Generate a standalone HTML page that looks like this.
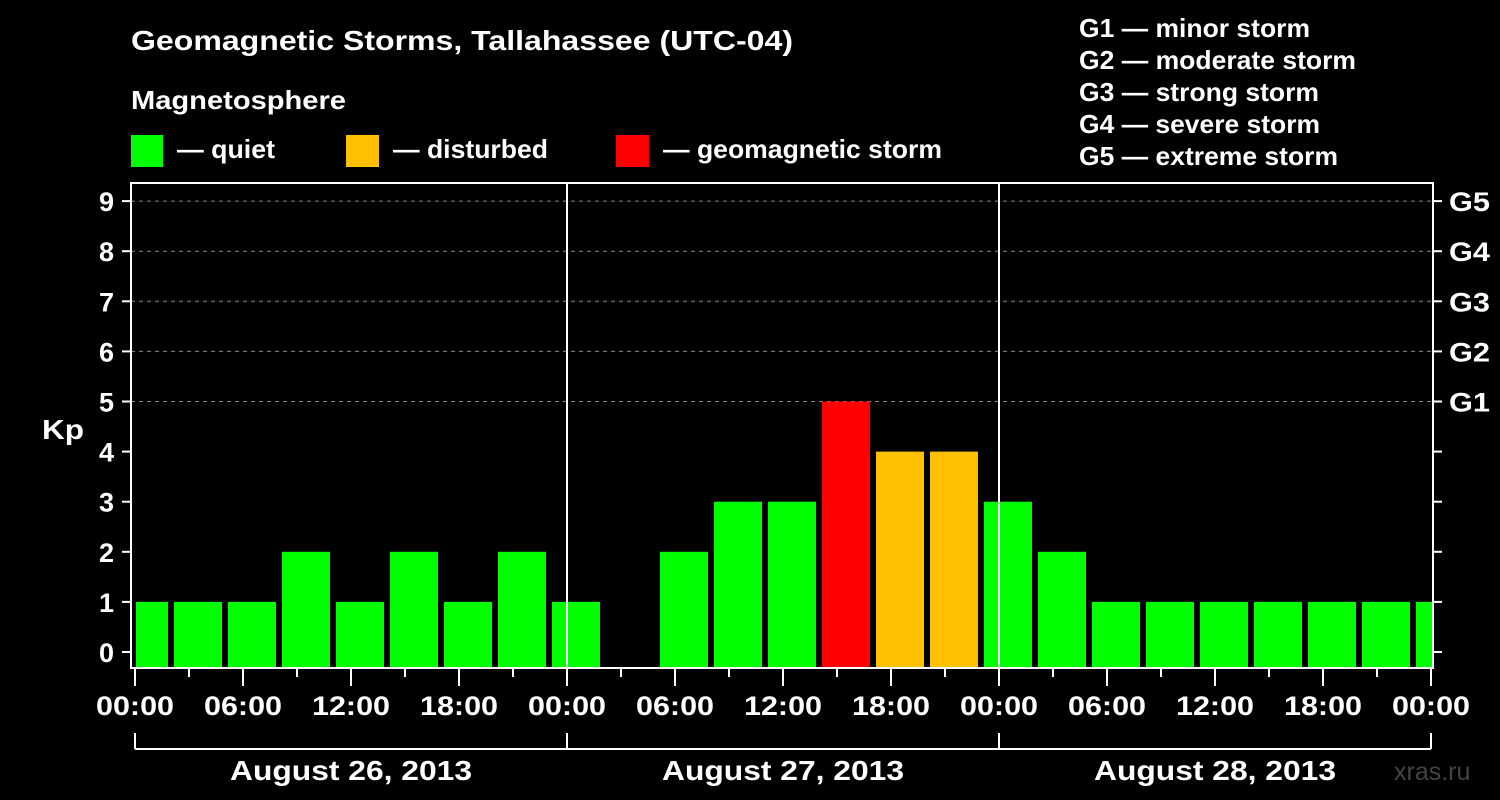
<!DOCTYPE html>
<html><head><meta charset="utf-8"><style>
html,body{margin:0;background:#000;}
svg{display:block;font-family:"Liberation Sans",sans-serif;font-weight:bold;}
</style></head><body>
<svg id="chart" width="1500" height="800" viewBox="0 0 1500 800">
<g fill="#fff">
<text x="131" y="50" font-size="28" textLength="662" lengthAdjust="spacingAndGlyphs">Geomagnetic Storms, Tallahassee (UTC-04)</text>
<text x="131" y="109" font-size="26" textLength="215" lengthAdjust="spacingAndGlyphs">Magnetosphere</text>
<rect x="131" y="135" width="32" height="32" fill="#00ff00"/>
<text x="177" y="158" font-size="26" textLength="98" lengthAdjust="spacingAndGlyphs">— quiet</text>
<rect x="346" y="135" width="33" height="32" fill="#ffc000"/>
<text x="393" y="158" font-size="26" textLength="155" lengthAdjust="spacingAndGlyphs">— disturbed</text>
<rect x="616" y="135" width="33" height="32" fill="#ff0000"/>
<text x="663" y="158" font-size="26" textLength="279" lengthAdjust="spacingAndGlyphs">— geomagnetic storm</text>
<text x="1079" y="37" font-size="26" textLength="231" lengthAdjust="spacingAndGlyphs">G1 — minor storm</text>
<text x="1079" y="69" font-size="26" textLength="277" lengthAdjust="spacingAndGlyphs">G2 — moderate storm</text>
<text x="1079" y="101" font-size="26" textLength="240" lengthAdjust="spacingAndGlyphs">G3 — strong storm</text>
<text x="1079" y="133" font-size="26" textLength="241" lengthAdjust="spacingAndGlyphs">G4 — severe storm</text>
<text x="1079" y="165" font-size="26" textLength="259" lengthAdjust="spacingAndGlyphs">G5 — extreme storm</text>
<text x="42" y="439" font-size="28" textLength="42" lengthAdjust="spacingAndGlyphs">Kp</text>
<text x="1394" y="780" font-size="25" fill="#444" font-weight="normal">xras.ru</text>
</g>
<g id="plot"></g>
</svg>
<script>
const kpValues = [1,1,1,2,1,2,1,2, 1,null,2,3,3,5,4,4, 3,2,1,1,1,1,1,1, 1];
const yTicks = [0,1,2,3,4,5,6,7,8,9];
const gLabels = ["G1","G2","G3","G4","G5"];
const hourLabels = ["00:00","06:00","12:00","18:00","00:00","06:00","12:00","18:00","00:00","06:00","12:00","18:00","00:00"];
const dayLabels = ["August 26, 2013","August 27, 2013","August 28, 2013"];

const NS="http://www.w3.org/2000/svg";
const plot=document.getElementById('plot');
const X0=135, PXH=18, L=131, R=1433, T=183, B=668;
const xh=h=>X0+h*PXH;
const yv=v=>652-v*50.1;
function mk(tag,attrs,parent){const e=document.createElementNS(NS,tag);for(const k in attrs)e.setAttribute(k,attrs[k]);(parent||plot).appendChild(e);return e;}

const clip=mk('clipPath',{id:'pc'});mk('rect',{x:L+5,y:T,width:R-L-5,height:B-T},clip);
yTicks.forEach(v=>{
  if(v>=5){const g=mk('line',{x1:L,x2:R,y1:yv(v),y2:yv(v),stroke:'#888','stroke-dasharray':'4,4','stroke-width':1});
  
  }
});
const barsG=mk('g',{'clip-path':'url(#pc)'});
kpValues.forEach((v,i)=>{
  if(v===null)return;
  const c=xh(0.5+3*i);
  const col=v>=5?'#ff0000':(v>=4?'#ffc000':'#00ff00');
  const r=mk('rect',{x:c-24,y:yv(v),width:48,height:B-yv(v),fill:col},barsG);
  
  
});
[1,2].forEach(d=>{const l=mk('line',{x1:xh(24*d),x2:xh(24*d),y1:T,y2:B,stroke:'#fff','stroke-width':2});

});
const fr=mk('rect',{x:L,y:T,width:R-L,height:B-T,fill:'none',stroke:'#fff','stroke-width':2});


yTicks.forEach(v=>{
  mk('line',{x1:L-9,x2:L,y1:yv(v),y2:yv(v),stroke:'#fff','stroke-width':2});
  mk('line',{x1:R,x2:R+9,y1:yv(v),y2:yv(v),stroke:'#fff','stroke-width':2});
  const t=mk('text',{x:114,y:yv(v)+10,'text-anchor':'end','font-size':27,fill:'#fff'});t.textContent=v;
  
  
});
gLabels.forEach((g,i)=>{const t=mk('text',{x:1449,y:yv(5+i)+10,'font-size':27,textLength:41,lengthAdjust:'spacingAndGlyphs',fill:'#fff'});t.textContent=g;

});
for(let h=0;h<=72;h+=3){const major=h%6===0;
  mk('line',{x1:xh(h),x2:xh(h),y1:B,y2:major?686:677,stroke:'#fff','stroke-width':2});}
hourLabels.forEach((s,i)=>{const t=mk('text',{x:xh(6*i),y:715,'text-anchor':'middle','font-size':27,textLength:78,lengthAdjust:'spacingAndGlyphs',fill:'#fff'});t.textContent=s;

});
mk('line',{x1:xh(0),x2:xh(72),y1:749,y2:749,stroke:'#fff','stroke-width':2});
for(let d=0;d<=3;d++)mk('line',{x1:xh(24*d),x2:xh(24*d),y1:733,y2:749,stroke:'#fff','stroke-width':2});
dayLabels.forEach((s,i)=>{const t=mk('text',{x:xh(24*i+12),y:780,'text-anchor':'middle','font-size':28,textLength:242,lengthAdjust:'spacingAndGlyphs',fill:'#fff'});t.textContent=s;

});
</script>
</body></html>
